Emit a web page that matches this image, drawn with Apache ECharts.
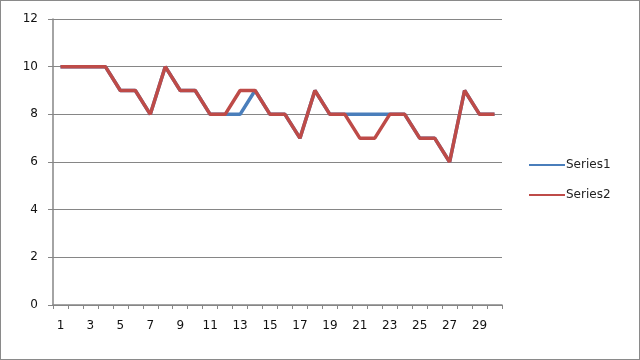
<!DOCTYPE html>
<html>
<head>
<meta charset="utf-8">
<script src="https://cdn.jsdelivr.net/npm/echarts@6/dist/echarts.min.js"></script>
<style>
html,body{margin:0;padding:0;background:#fff;}
#c{width:640px;height:360px;box-sizing:border-box;border:1px solid #8a8a8a;}
</style>
</head>
<body>
<div id="c"></div>
<script>
var categories = [];
for (var i = 1; i <= 30; i++) categories.push(String(i));
var series1 = [10,10,10,10,9,9,8,10,9,9,8,8,8,9,8,8,7,9,8,8,8,8,8,8,7,7,6,9,8,8];
var series2 = [10,10,10,10,9,9,8,10,9,9,8,8,9,9,8,8,7,9,8,8,7,7,8,8,7,7,6,9,8,8];
var seriesNames = ['Series1','Series2'];

var chart = echarts.init(document.getElementById('c'), null, {renderer:'canvas'});
chart.setOption({
  animation: false,
  grid: {left: 52, right: 137, top: 18, bottom: 54, containLabel: false},
  legend: {
    orient: 'vertical', left: 528, top: 158, itemGap: 18, padding: 0,
    itemWidth: 36, itemHeight: 2, icon: 'rect',
    textStyle: {fontFamily: 'DejaVu Sans', fontSize: 12, color: '#222', padding: [0,0,0,-4]},
    data: seriesNames
  },
  xAxis: {
    type: 'category', data: categories, boundaryGap: true,
    axisLine: {lineStyle: {color: '#868686', width: 1.5}},
    axisTick: {show: true, interval: 0, length: 4, lineStyle: {color: '#868686'}},
    axisLabel: {interval: 1, margin: 15, fontFamily: 'DejaVu Sans', fontSize: 12, color: '#111'}
  },
  yAxis: {
    type: 'value', min: 0, max: 12, interval: 2,
    axisLine: {show: true, lineStyle: {color: '#868686', width: 1.5}},
    axisTick: {show: true, length: 5, lineStyle: {color: '#868686'}},
    axisLabel: {margin: 15, fontFamily: 'DejaVu Sans', fontSize: 12, color: '#111'},
    splitLine: {lineStyle: {color: '#868686', width: 1}}
  },
  series: [
    {name: 'Series1', type: 'line', data: series1, symbol: 'none', color: '#4A7EBB', lineStyle: {width: 3.5, color: '#4A7EBB'}, z: 2},
    {name: 'Series2', type: 'line', data: series2, symbol: 'none', color: '#BE4B48', lineStyle: {width: 3.5, color: '#BE4B48'}, z: 3}
  ]
});
</script>
</body>
</html>
